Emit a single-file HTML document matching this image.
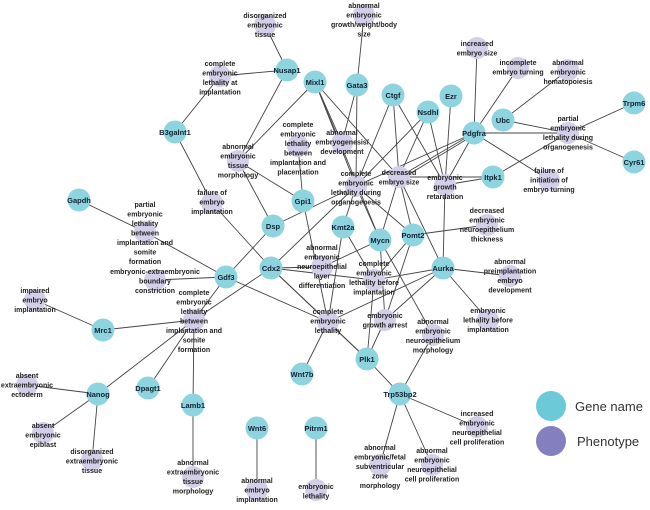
<!DOCTYPE html>
<html><head><meta charset="utf-8"><style>
html,body{margin:0;padding:0;background:#fff;}
svg{display:block;}
.e line{stroke:#444;stroke-width:0.9;}
.g{fill:#8dd4df;}
.p{fill:#d3cfe9;}
text{font-family:"Liberation Sans",sans-serif;font-weight:bold;font-size:7px;fill:#222;text-anchor:middle;}
.gl{font-size:7.5px;fill:#123;}
.lg{font-weight:normal;font-size:13px;text-anchor:start;fill:#333;}
</style></head><body>
<svg width="650" height="510" viewBox="0 0 650 510" xmlns="http://www.w3.org/2000/svg">
<g class="e">
<line x1="287" y1="70" x2="265" y2="25"/>
<line x1="287" y1="70" x2="220" y2="76"/>
<line x1="287" y1="70" x2="238" y2="161"/>
<line x1="315" y1="82" x2="238" y2="161"/>
<line x1="175" y1="132" x2="220" y2="76"/>
<line x1="175" y1="132" x2="212" y2="203"/>
<line x1="212" y1="203" x2="271" y2="268"/>
<line x1="79" y1="200" x2="145" y2="232"/>
<line x1="145" y1="232" x2="226" y2="277"/>
<line x1="226" y1="277" x2="155" y2="280"/>
<line x1="226" y1="277" x2="194" y2="320"/>
<line x1="226" y1="277" x2="328" y2="322"/>
<line x1="226" y1="277" x2="273" y2="226"/>
<line x1="271" y1="268" x2="194" y2="320"/>
<line x1="271" y1="268" x2="356" y2="186"/>
<line x1="271" y1="268" x2="322" y2="267"/>
<line x1="271" y1="268" x2="374" y2="280"/>
<line x1="271" y1="268" x2="328" y2="322"/>
<line x1="271" y1="268" x2="367" y2="359"/>
<line x1="273" y1="226" x2="238" y2="161"/>
<line x1="273" y1="226" x2="356" y2="186"/>
<line x1="303" y1="201" x2="238" y2="161"/>
<line x1="303" y1="201" x2="298" y2="146"/>
<line x1="303" y1="201" x2="328" y2="322"/>
<line x1="315" y1="82" x2="342" y2="143"/>
<line x1="315" y1="82" x2="356" y2="186"/>
<line x1="315" y1="82" x2="399" y2="177"/>
<line x1="315" y1="82" x2="380" y2="240"/>
<line x1="357" y1="85" x2="364" y2="15"/>
<line x1="357" y1="85" x2="342" y2="143"/>
<line x1="357" y1="85" x2="356" y2="186"/>
<line x1="393" y1="95" x2="356" y2="186"/>
<line x1="393" y1="95" x2="399" y2="177"/>
<line x1="393" y1="95" x2="445" y2="185"/>
<line x1="428" y1="112" x2="399" y2="177"/>
<line x1="428" y1="112" x2="445" y2="185"/>
<line x1="428" y1="112" x2="356" y2="186"/>
<line x1="451" y1="96" x2="445" y2="185"/>
<line x1="474" y1="133" x2="477" y2="48"/>
<line x1="474" y1="133" x2="518" y2="68"/>
<line x1="474" y1="133" x2="568" y2="133"/>
<line x1="474" y1="133" x2="549" y2="180"/>
<line x1="474" y1="133" x2="399" y2="177"/>
<line x1="474" y1="135" x2="401" y2="179"/>
<line x1="474" y1="133" x2="356" y2="186"/>
<line x1="474" y1="133" x2="445" y2="185"/>
<line x1="503" y1="120" x2="568" y2="70"/>
<line x1="503" y1="120" x2="568" y2="133"/>
<line x1="634" y1="103" x2="568" y2="133"/>
<line x1="634" y1="162" x2="568" y2="133"/>
<line x1="493" y1="177" x2="568" y2="133"/>
<line x1="493" y1="177" x2="399" y2="177"/>
<line x1="493" y1="177" x2="445" y2="185"/>
<line x1="343" y1="227" x2="356" y2="186"/>
<line x1="343" y1="227" x2="374" y2="280"/>
<line x1="343" y1="227" x2="328" y2="322"/>
<line x1="380" y1="240" x2="399" y2="177"/>
<line x1="380" y1="240" x2="356" y2="186"/>
<line x1="380" y1="240" x2="322" y2="267"/>
<line x1="380" y1="240" x2="385" y2="320"/>
<line x1="380" y1="240" x2="433" y2="335"/>
<line x1="413" y1="235" x2="487" y2="225"/>
<line x1="413" y1="235" x2="399" y2="177"/>
<line x1="413" y1="235" x2="356" y2="186"/>
<line x1="413" y1="235" x2="385" y2="320"/>
<line x1="413" y1="235" x2="374" y2="280"/>
<line x1="443" y1="268" x2="510" y2="276"/>
<line x1="443" y1="268" x2="488" y2="320"/>
<line x1="443" y1="268" x2="385" y2="320"/>
<line x1="443" y1="268" x2="328" y2="322"/>
<line x1="443" y1="268" x2="374" y2="280"/>
<line x1="443" y1="268" x2="399" y2="177"/>
<line x1="443" y1="268" x2="445" y2="185"/>
<line x1="367" y1="359" x2="328" y2="322"/>
<line x1="367" y1="359" x2="385" y2="320"/>
<line x1="367" y1="359" x2="374" y2="280"/>
<line x1="367" y1="359" x2="400" y2="394"/>
<line x1="400" y1="394" x2="433" y2="335"/>
<line x1="400" y1="394" x2="477" y2="427"/>
<line x1="400" y1="394" x2="380" y2="465"/>
<line x1="400" y1="394" x2="432" y2="465"/>
<line x1="302" y1="374" x2="328" y2="322"/>
<line x1="103" y1="330" x2="35" y2="300"/>
<line x1="103" y1="330" x2="194" y2="320"/>
<line x1="98" y1="394" x2="194" y2="320"/>
<line x1="98" y1="394" x2="27" y2="385"/>
<line x1="98" y1="394" x2="43" y2="433"/>
<line x1="98" y1="394" x2="92" y2="460"/>
<line x1="148" y1="388" x2="194" y2="320"/>
<line x1="193" y1="405" x2="194" y2="320"/>
<line x1="193" y1="405" x2="193" y2="477"/>
<line x1="257" y1="428" x2="257" y2="490"/>
<line x1="316" y1="428" x2="316" y2="490"/>
</g>
<g class="p">
<circle cx="265" cy="25" r="11"/><circle cx="220" cy="76" r="11"/><circle cx="364" cy="15" r="11"/>
<circle cx="477" cy="48" r="11"/><circle cx="518" cy="68" r="11"/><circle cx="568" cy="70" r="11"/>
<circle cx="568" cy="133" r="11"/><circle cx="549" cy="180" r="11"/><circle cx="342" cy="143" r="11"/>
<circle cx="298" cy="146" r="11"/><circle cx="238" cy="161" r="11"/><circle cx="356" cy="186" r="11"/>
<circle cx="399" cy="177" r="11"/><circle cx="445" cy="185" r="11"/><circle cx="487" cy="225" r="11"/>
<circle cx="212" cy="203" r="11"/><circle cx="145" cy="232" r="11"/><circle cx="155" cy="280" r="11"/>
<circle cx="194" cy="320" r="11"/><circle cx="322" cy="267" r="11"/><circle cx="374" cy="280" r="11"/>
<circle cx="328" cy="322" r="11"/><circle cx="385" cy="320" r="11"/><circle cx="433" cy="335" r="11"/>
<circle cx="510" cy="276" r="11"/><circle cx="488" cy="320" r="11"/><circle cx="477" cy="427" r="11"/>
<circle cx="380" cy="465" r="11"/><circle cx="432" cy="465" r="11"/><circle cx="35" cy="300" r="11"/>
<circle cx="27" cy="385" r="11"/><circle cx="43" cy="433" r="11"/><circle cx="92" cy="460" r="11"/>
<circle cx="193" cy="477" r="11"/><circle cx="257" cy="490" r="11"/><circle cx="316" cy="490" r="11"/>
</g>
<g class="g">
<circle cx="287" cy="70" r="11.5"/><circle cx="315" cy="82" r="11.5"/><circle cx="357" cy="85" r="11.5"/>
<circle cx="393" cy="95" r="11.5"/><circle cx="451" cy="96" r="11.5"/><circle cx="428" cy="112" r="11.5"/>
<circle cx="474" cy="133" r="11.5"/><circle cx="503" cy="120" r="11.5"/><circle cx="634" cy="103" r="11.5"/>
<circle cx="634" cy="162" r="11.5"/><circle cx="493" cy="177" r="11.5"/><circle cx="175" cy="132" r="11.5"/>
<circle cx="79" cy="200" r="11.5"/><circle cx="303" cy="201" r="11.5"/><circle cx="273" cy="226" r="11.5"/>
<circle cx="343" cy="227" r="11.5"/><circle cx="380" cy="240" r="11.5"/><circle cx="413" cy="235" r="11.5"/>
<circle cx="443" cy="268" r="11.5"/><circle cx="226" cy="277" r="11.5"/><circle cx="271" cy="268" r="11.5"/>
<circle cx="103" cy="330" r="11.5"/><circle cx="98" cy="394" r="11.5"/><circle cx="148" cy="388" r="11.5"/>
<circle cx="193" cy="405" r="11.5"/><circle cx="302" cy="374" r="11.5"/><circle cx="367" cy="359" r="11.5"/>
<circle cx="400" cy="394" r="11.5"/><circle cx="257" cy="428" r="11.5"/><circle cx="316" cy="428" r="11.5"/>
</g>
<g class="gl">
<text x="287" y="73" class="gl">Nusap1</text><text x="315" y="85" class="gl">Mixl1</text><text x="357" y="88" class="gl">Gata3</text>
<text x="393" y="98" class="gl">Ctgf</text><text x="451" y="99" class="gl">Ezr</text><text x="428" y="115" class="gl">Nsdhl</text>
<text x="474" y="136" class="gl">Pdgfra</text><text x="503" y="123" class="gl">Ubc</text><text x="634" y="106" class="gl">Trpm6</text>
<text x="634" y="165" class="gl">Cyr61</text><text x="493" y="180" class="gl">Itpk1</text><text x="175" y="135" class="gl">B3galnt1</text>
<text x="79" y="203" class="gl">Gapdh</text><text x="303" y="204" class="gl">Gpi1</text><text x="273" y="229" class="gl">Dsp</text>
<text x="343" y="230" class="gl">Kmt2a</text><text x="380" y="243" class="gl">Mycn</text><text x="413" y="238" class="gl">Pomt2</text>
<text x="443" y="271" class="gl">Aurka</text><text x="226" y="280" class="gl">Gdf3</text><text x="271" y="271" class="gl">Cdx2</text>
<text x="103" y="333" class="gl">Mrc1</text><text x="98" y="397" class="gl">Nanog</text><text x="148" y="391" class="gl">Dpagt1</text>
<text x="193" y="408" class="gl">Lamb1</text><text x="302" y="377" class="gl">Wnt7b</text><text x="367" y="362" class="gl">Plk1</text>
<text x="400" y="397" class="gl">Trp53bp2</text><text x="257" y="431" class="gl">Wnt6</text><text x="316" y="431" class="gl">Pitrm1</text>
</g>
<g>
<text x="265" y="18"><tspan x="265">disorganized</tspan><tspan x="265" dy="9.5">embryonic</tspan><tspan x="265" dy="9.5">tissue</tspan></text>
<text x="220" y="66"><tspan x="220">complete</tspan><tspan x="220" dy="9.5">embryonic</tspan><tspan x="220" dy="9.5">lethality at</tspan><tspan x="220" dy="9.5">implantation</tspan></text>
<text x="364" y="8"><tspan x="364">abnormal</tspan><tspan x="364" dy="9.5">embryonic</tspan><tspan x="364" dy="9.5">growth/weight/body</tspan><tspan x="364" dy="9.5">size</tspan></text>
<text x="477" y="46"><tspan x="477">increased</tspan><tspan x="477" dy="9.5">embryo size</tspan></text>
<text x="518" y="65"><tspan x="518">incomplete</tspan><tspan x="518" dy="9.5">embryo turning</tspan></text>
<text x="568" y="65"><tspan x="568">abnormal</tspan><tspan x="568" dy="9.5">embryonic</tspan><tspan x="568" dy="9.5">hematopoiesis</tspan></text>
<text x="568" y="121"><tspan x="568">partial</tspan><tspan x="568" dy="9.5">embryonic</tspan><tspan x="568" dy="9.5">lethality during</tspan><tspan x="568" dy="9.5">organogenesis</tspan></text>
<text x="549" y="173"><tspan x="549">failure of</tspan><tspan x="549" dy="9.5">initiation of</tspan><tspan x="549" dy="9.5">embryo turning</tspan></text>
<text x="342" y="135"><tspan x="342">abnormal</tspan><tspan x="342" dy="9.5">embryogenesis/</tspan><tspan x="342" dy="9.5">development</tspan></text>
<text x="298" y="127"><tspan x="298">complete</tspan><tspan x="298" dy="9.5">embryonic</tspan><tspan x="298" dy="9.5">lethality</tspan><tspan x="298" dy="9.5">between</tspan><tspan x="298" dy="9.5">implantation and</tspan><tspan x="298" dy="9.5">placentation</tspan></text>
<text x="238" y="149"><tspan x="238">abnormal</tspan><tspan x="238" dy="9.5">embryonic</tspan><tspan x="238" dy="9.5">tissue</tspan><tspan x="238" dy="9.5">morphology</tspan></text>
<text x="356" y="176"><tspan x="356">complete</tspan><tspan x="356" dy="9.5">embryonic</tspan><tspan x="356" dy="9.5">lethality during</tspan><tspan x="356" dy="9.5">organogenesis</tspan></text>
<text x="399" y="175"><tspan x="399">decreased</tspan><tspan x="399" dy="9.5">embryo size</tspan></text>
<text x="445" y="180"><tspan x="445">embryonic</tspan><tspan x="445" dy="9.5">growth</tspan><tspan x="445" dy="9.5">retardation</tspan></text>
<text x="487" y="213"><tspan x="487">decreased</tspan><tspan x="487" dy="9.5">embryonic</tspan><tspan x="487" dy="9.5">neuroepithelium</tspan><tspan x="487" dy="9.5">thickness</tspan></text>
<text x="212" y="195"><tspan x="212">failure of</tspan><tspan x="212" dy="9.5">embryo</tspan><tspan x="212" dy="9.5">implantation</tspan></text>
<text x="145" y="207"><tspan x="145">partial</tspan><tspan x="145" dy="9.5">embryonic</tspan><tspan x="145" dy="9.5">lethality</tspan><tspan x="145" dy="9.5">between</tspan><tspan x="145" dy="9.5">implantation and</tspan><tspan x="145" dy="9.5">somite</tspan><tspan x="145" dy="9.5">formation</tspan></text>
<text x="155" y="274"><tspan x="155">embryonic-extraembryonic</tspan><tspan x="155" dy="9.5">boundary</tspan><tspan x="155" dy="9.5">constriction</tspan></text>
<text x="194" y="295"><tspan x="194">complete</tspan><tspan x="194" dy="9.5">embryonic</tspan><tspan x="194" dy="9.5">lethality</tspan><tspan x="194" dy="9.5">between</tspan><tspan x="194" dy="9.5">implantation and</tspan><tspan x="194" dy="9.5">somite</tspan><tspan x="194" dy="9.5">formation</tspan></text>
<text x="322" y="250"><tspan x="322">abnormal</tspan><tspan x="322" dy="9.5">embryonic</tspan><tspan x="322" dy="9.5">neuroepithelial</tspan><tspan x="322" dy="9.5">layer</tspan><tspan x="322" dy="9.5">differentiation</tspan></text>
<text x="374" y="266"><tspan x="374">complete</tspan><tspan x="374" dy="9.5">embryonic</tspan><tspan x="374" dy="9.5">lethality before</tspan><tspan x="374" dy="9.5">implantation</tspan></text>
<text x="328" y="314"><tspan x="328">complete</tspan><tspan x="328" dy="9.5">embryonic</tspan><tspan x="328" dy="9.5">lethality</tspan></text>
<text x="385" y="318"><tspan x="385">embryonic</tspan><tspan x="385" dy="9.5">growth arrest</tspan></text>
<text x="433" y="324"><tspan x="433">abnormal</tspan><tspan x="433" dy="9.5">embryonic</tspan><tspan x="433" dy="9.5">neuroepithelium</tspan><tspan x="433" dy="9.5">morphology</tspan></text>
<text x="510" y="264"><tspan x="510">abnormal</tspan><tspan x="510" dy="9.5">preimplantation</tspan><tspan x="510" dy="9.5">embryo</tspan><tspan x="510" dy="9.5">development</tspan></text>
<text x="488" y="313"><tspan x="488">embryonic</tspan><tspan x="488" dy="9.5">lethality before</tspan><tspan x="488" dy="9.5">implantation</tspan></text>
<text x="477" y="416"><tspan x="477">increased</tspan><tspan x="477" dy="9.5">embryonic</tspan><tspan x="477" dy="9.5">neuroepithelial</tspan><tspan x="477" dy="9.5">cell proliferation</tspan></text>
<text x="380" y="450"><tspan x="380">abnormal</tspan><tspan x="380" dy="9.5">embryonic/fetal</tspan><tspan x="380" dy="9.5">subventricular</tspan><tspan x="380" dy="9.5">zone</tspan><tspan x="380" dy="9.5">morphology</tspan></text>
<text x="432" y="453"><tspan x="432">abnormal</tspan><tspan x="432" dy="9.5">embryonic</tspan><tspan x="432" dy="9.5">neuroepithelial</tspan><tspan x="432" dy="9.5">cell proliferation</tspan></text>
<text x="35" y="293"><tspan x="35">impaired</tspan><tspan x="35" dy="9.5">embryo</tspan><tspan x="35" dy="9.5">implantation</tspan></text>
<text x="27" y="378"><tspan x="27">absent</tspan><tspan x="27" dy="9.5">extraembryonic</tspan><tspan x="27" dy="9.5">ectoderm</tspan></text>
<text x="43" y="428"><tspan x="43">absent</tspan><tspan x="43" dy="9.5">embryonic</tspan><tspan x="43" dy="9.5">epiblast</tspan></text>
<text x="92" y="454"><tspan x="92">disorganized</tspan><tspan x="92" dy="9.5">extraembryonic</tspan><tspan x="92" dy="9.5">tissue</tspan></text>
<text x="193" y="465"><tspan x="193">abnormal</tspan><tspan x="193" dy="9.5">extraembryonic</tspan><tspan x="193" dy="9.5">tissue</tspan><tspan x="193" dy="9.5">morphology</tspan></text>
<text x="257" y="483"><tspan x="257">abnormal</tspan><tspan x="257" dy="9.5">embryo</tspan><tspan x="257" dy="9.5">implantation</tspan></text>
<text x="316" y="489"><tspan x="316">embryonic</tspan><tspan x="316" dy="9.5">lethality</tspan></text>
</g>
<circle cx="551" cy="406" r="15" fill="#6ccad8"/>
<circle cx="551" cy="441" r="15" fill="#8480c0"/>
<text x="575" y="411" class="lg">Gene name</text>
<text x="577" y="446" class="lg">Phenotype</text>
</svg>
</body></html>
